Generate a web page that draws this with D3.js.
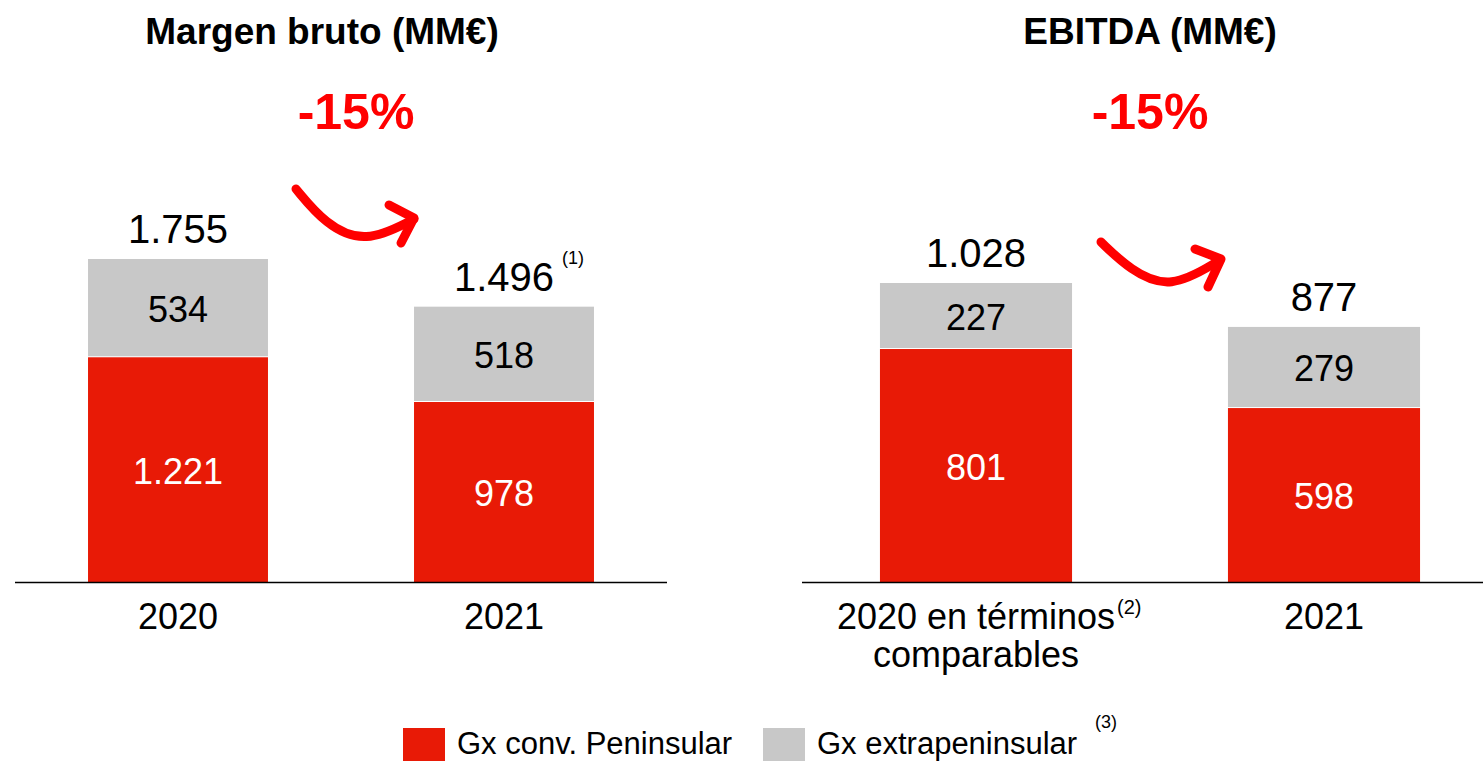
<!DOCTYPE html>
<html><head><meta charset="utf-8">
<script src="https://cdn.jsdelivr.net/npm/d3@7"></script>
<style>body{margin:0;background:#fff}svg{display:block;font-family:"Liberation Sans",Arial,sans-serif}</style>
</head><body>
<svg id="c" width="1483" height="762"></svg>
<script>
const seriesNames = ["Gx conv. Peninsular", "Gx extrapeninsular"];
const colors = ["#E81A06", "#C8C8C8"];

const mbCategories = ["2020", "2021"];
const mbPeninsular = [1221, 978];
const mbExtra = [534, 518];
const mbTotalLabels = ["1.755", "1.496"];
const mbPenLabels = ["1.221", "978"];
const mbExtraLabels = ["534", "518"];

const ebCategories = ["2020 en términos", "2021"];
const ebPeninsular = [801, 598];
const ebExtra = [227, 279];
const ebTotalLabels = ["1.028", "877"];
const ebPenLabels = ["801", "598"];
const ebExtraLabels = ["227", "279"];

const svg = d3.select("#c");
const baseY = 582;

function drawChart(cfg) {
  const g = svg.append("g");
  const x = d3.scaleBand().domain(cfg.cats).range(cfg.xr).paddingInner(0.448).paddingOuter(0.224);
  const totals = cfg.pen.map((v, i) => v + cfg.ext[i]);
  const y = d3.scaleLinear().domain([0, d3.max(totals)]).range([baseY, cfg.topY]);
  cfg.cats.forEach((c, i) => {
    g.append("rect").attr("x", x(c)).attr("width", x.bandwidth())
      .attr("y", y(cfg.pen[i])).attr("height", y(0) - y(cfg.pen[i])).attr("fill", colors[0]);
    g.append("rect").attr("x", x(c)).attr("width", x.bandwidth())
      .attr("y", y(totals[i])).attr("height", y(cfg.pen[i]) - y(totals[i]) - 1).attr("fill", colors[1]);
    const cx = x(c) + x.bandwidth() / 2;
    g.append("text").attr("x", cx).attr("y", (y(0) + y(cfg.pen[i])) / 2 + 14)
      .attr("text-anchor", "middle").attr("font-size", 36).attr("fill", "#fff").text(cfg.penL[i]);
    g.append("text").attr("x", cx).attr("y", (y(cfg.pen[i]) + y(totals[i])) / 2 + 14)
      .attr("text-anchor", "middle").attr("font-size", 36).attr("fill", "#000").text(cfg.extL[i]);
    g.append("text").attr("x", cx).attr("y", y(totals[i]) - 16)
      .attr("text-anchor", "middle").attr("font-size", 40).attr("fill", "#000").text(cfg.totL[i]);
  });
  g.append("line").attr("x1", cfg.axis[0]).attr("x2", cfg.axis[1]).attr("y1", baseY + 0.5).attr("y2", baseY + 0.5)
    .attr("stroke", "#000").attr("stroke-width", 1.5);
  g.append("text").attr("x", cfg.titleX).attr("y", 44).attr("text-anchor", "middle")
    .attr("font-size", 37).attr("font-weight", "bold").text(cfg.title);
  g.append("text").attr("x", cfg.pctX).attr("y", 129).attr("text-anchor", "middle")
    .attr("font-size", 50).attr("font-weight", "bold").attr("fill", "#FF0000").text("-15%");
  return {x, y, totals, g};
}

const L = drawChart({cats: mbCategories, pen: mbPeninsular, ext: mbExtra, totL: mbTotalLabels, penL: mbPenLabels, extL: mbExtraLabels,
  xr: [15, 667], topY: 259, axis: [15, 667], title: "Margen bruto (MM€)", titleX: 322, pctX: 356});
const R = drawChart({cats: ebCategories, pen: ebPeninsular, ext: ebExtra, totL: ebTotalLabels, penL: ebPenLabels, extL: ebExtraLabels,
  xr: [802, 1498], topY: 283, axis: [802, 1483], title: "EBITDA (MM€)", titleX: 1150, pctX: 1150});

[[L, mbCategories], [R, ebCategories]].forEach(([C, cats]) => {
  cats.forEach(c => {
    C.g.append("text").attr("x", C.x(c) + C.x.bandwidth() / 2).attr("y", 629).attr("text-anchor", "middle")
      .attr("font-size", 36).text(c);
  });
});
svg.append("text").attr("x", 1117).attr("y", 614).attr("font-size", 20).text("(2)");
svg.append("text").attr("x", 562).attr("y", 264).attr("font-size", 18).text("(1)");
R.g.append("text").attr("x", R.x(ebCategories[0]) + R.x.bandwidth() / 2).attr("y", 667).attr("text-anchor", "middle")
  .attr("font-size", 36).text("comparables");

const red = "#FF0000";
function arrow(pts, head) {
  svg.append("path").attr("d", d3.line().curve(d3.curveBasis)(pts))
    .attr("fill", "none").attr("stroke", red).attr("stroke-width", 9).attr("stroke-linecap", "round");
  svg.append("path").attr("d", d3.line()(head))
    .attr("fill", "none").attr("stroke", red).attr("stroke-width", 9).attr("stroke-linecap", "round").attr("stroke-linejoin", "round");
}
arrow([[296, 189], [325, 224], [365, 244], [414, 219]], [[389, 205], [414, 218], [401, 243]]);
arrow([[1101, 242], [1130, 270], [1170, 290], [1220, 260]], [[1195, 249], [1221, 259], [1208, 287]]);

const leg = svg.append("g");
const legX = [403, 763];
seriesNames.forEach((n, i) => {
  leg.append("rect").attr("x", legX[i]).attr("y", 728).attr("width", 42).attr("height", 33).attr("fill", colors[i]);
  leg.append("text").attr("x", legX[i] + 54).attr("y", 754).attr("font-size", 31).text(n);
});
svg.append("text").attr("x", 1095).attr("y", 728).attr("font-size", 18).text("(3)");
</script>
</body></html>
